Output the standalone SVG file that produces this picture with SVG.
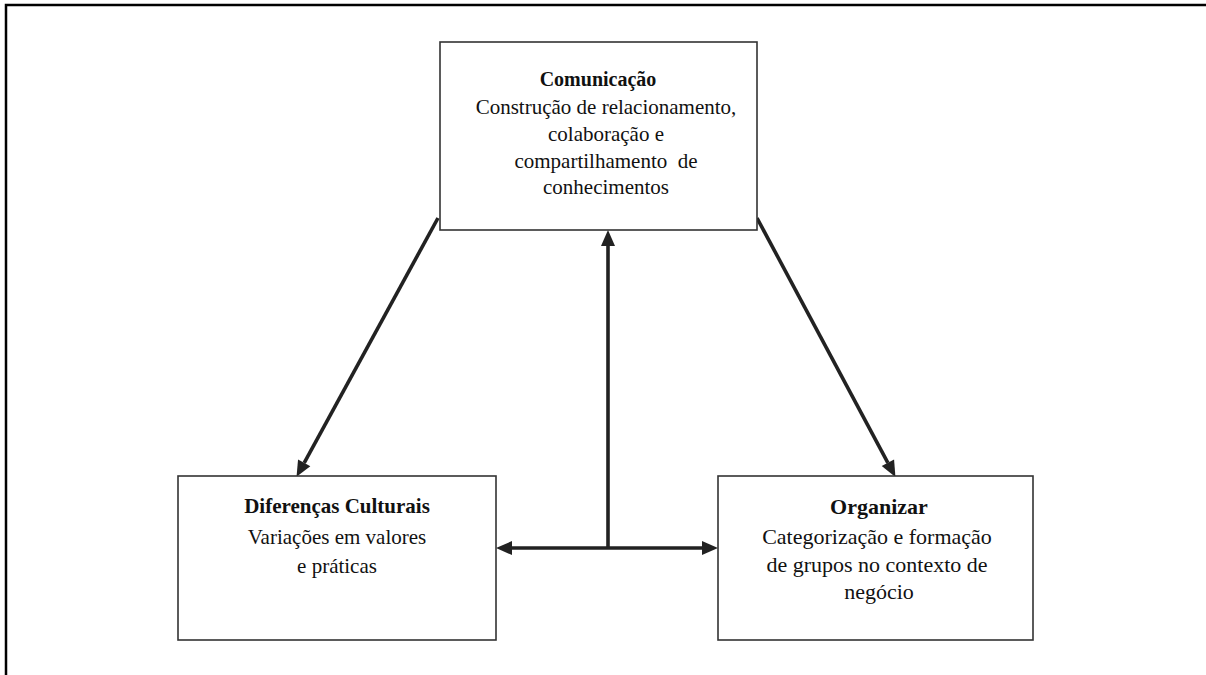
<svg xmlns="http://www.w3.org/2000/svg" width="1206" height="675" viewBox="0 0 1206 675">
<style>
.frame{stroke:#000;stroke-width:2.5;fill:none}
.box{fill:#fff;stroke:#333;stroke-width:1.6}
.t{font-family:"Liberation Serif","Times New Roman",serif;fill:#111;text-anchor:middle}
.b{font-weight:bold}
.conn{stroke:#222;stroke-width:3.6;fill:none}
</style>
<defs>
<marker id="ah" markerUnits="userSpaceOnUse" orient="auto-start-reverse" refX="0" refY="0" markerWidth="16" markerHeight="14" overflow="visible">
<path d="M0,-7 L16,0 L0,7 z" fill="#222"/>
</marker>
</defs>
<rect width="1206" height="675" fill="#fff"/>
<path class="frame" d="M6,675 V5 H1206"/>
<g id="connectors">
<line class="conn" x1="438" y1="218" x2="304.2" y2="462.8" marker-end="url(#ah)"/>
<line class="conn" x1="757" y1="218" x2="887.9" y2="462.8" marker-end="url(#ah)"/>
<line class="conn" x1="608" y1="548" x2="608" y2="246" marker-end="url(#ah)"/>
<line class="conn" x1="512" y1="548" x2="702" y2="548" marker-start="url(#ah)" marker-end="url(#ah)"/>
</g>
<g id="comunicacao">
<rect class="box" x="440" y="42" width="317" height="188"/>
<text class="t b" x="598" y="86" font-size="20">Comunicação</text>
<text class="t" x="606" y="114" font-size="21">Construção de relacionamento,</text>
<text class="t" x="606" y="141" font-size="21">colaboração e</text>
<text class="t" x="606" y="168" font-size="21" style="white-space:pre">compartilhamento  de</text>
<text class="t" x="606" y="194" font-size="21">conhecimentos</text>
</g>
<g id="diferencas">
<rect class="box" x="178" y="476" width="318" height="164"/>
<text class="t b" x="337" y="513" font-size="21">Diferenças Culturais</text>
<text class="t" x="337" y="544" font-size="21">Variações em valores</text>
<text class="t" x="337" y="573" font-size="21">e práticas</text>
</g>
<g id="organizar">
<rect class="box" x="718" y="476" width="315" height="164"/>
<text class="t b" x="879" y="514" font-size="22">Organizar</text>
<text class="t" x="877" y="544" font-size="22">Categorização e formação</text>
<text class="t" x="877" y="572" font-size="22">de grupos no contexto de</text>
<text class="t" x="879" y="599" font-size="22">negócio</text>
</g>
</svg>
